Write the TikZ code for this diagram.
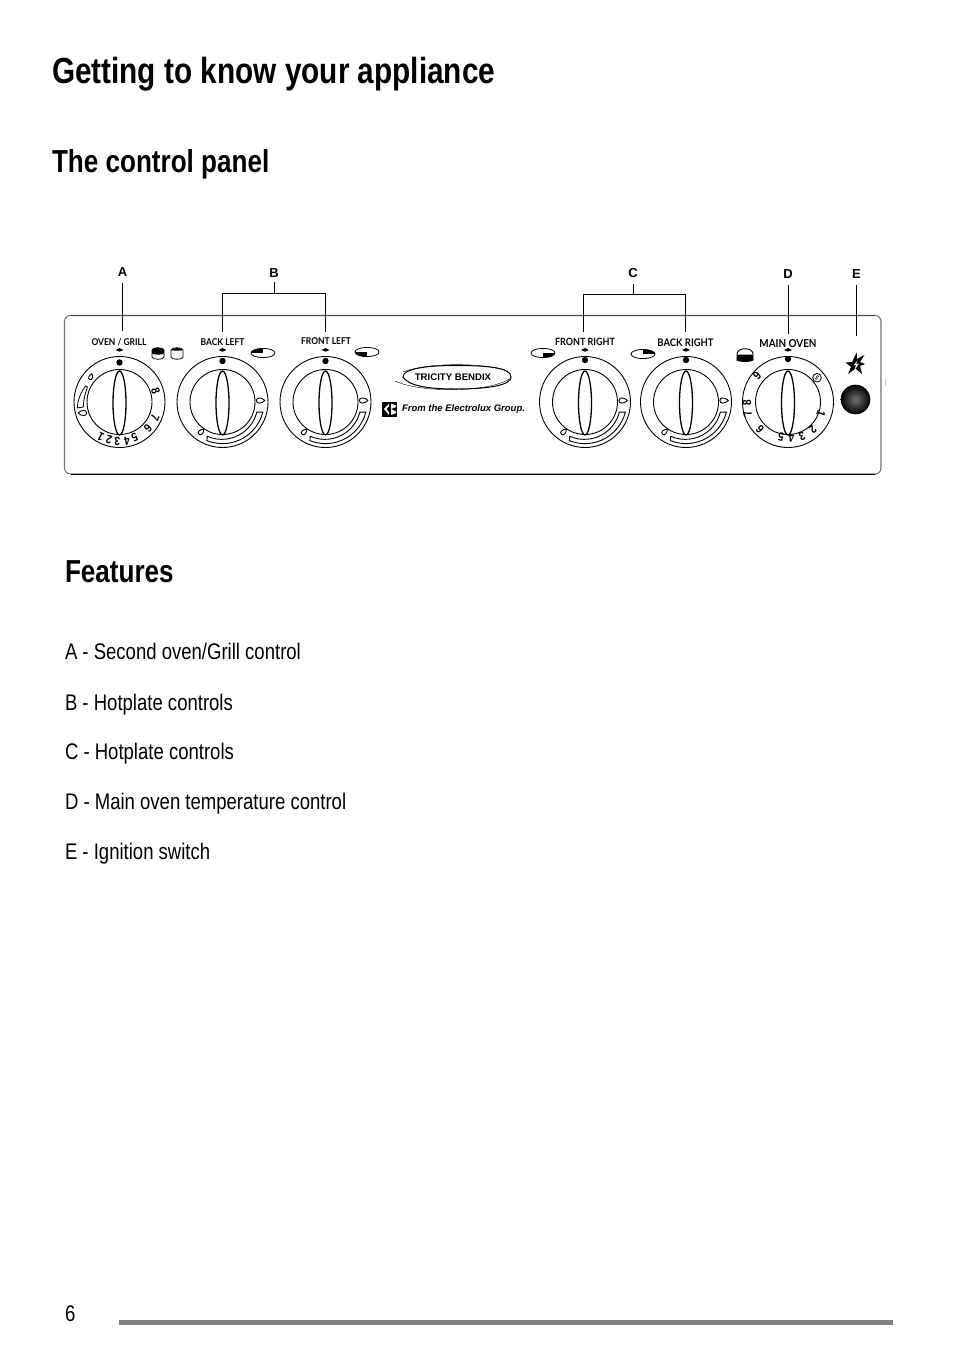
\documentclass[tikz,border=0pt]{standalone}
\usepackage{fontspec}
\setmainfont[FakeStretch=0.82]{Liberation Sans}
\newfontfamily\plainsans{Liberation Sans}
\newfontfamily\dialfont[FakeStretch=0.9]{Lato}
\newfontfamily\digitfont[FakeStretch=0.85]{Liberation Sans}
\usetikzlibrary{shadings}
\tikzset{
  every node/.style={inner sep=0pt,outer sep=0pt},
  title/.style={anchor=base west,font=\bfseries\fontsize{36.3}{36}\selectfont},
  subhead/.style={anchor=base west,font=\bfseries\fontsize{31.8}{31}\selectfont},
  bodytext/.style={anchor=base west,font=\fontsize{22.6}{22}\selectfont},
  letter/.style={font=\plainsans\bfseries\fontsize{13}{13}\selectfont},
  dialname/.style={font=\dialfont\bfseries\fontsize{#1}{#1}\selectfont},
  dialname/.default=9.4,
  digit/.style={font=\digitfont\bfseries\fontsize{12}{12}\selectfont},
  lead/.style={line width=0.8pt,black},
}
\newcommand{\dialbase}[3]{%
  \draw[line width=0.9pt] (#1,#2) circle[radius=45.5];
  \draw[line width=0.9pt] (#1,#2) circle[radius=32.5];
  \draw[line width=1.3pt,fill=white] (#1,#2+1) ellipse[x radius=6.5,y radius=32];
  \fill (#1,#2-#3) circle[radius=3.2];
  \fill (#1-4,#2-52) -- (#1,#2-54) -- (#1+4,#2-52) -- (#1,#2-50.3) -- cycle;
}
\newcommand{\flame}[4]{% x y rotation scale
  \draw[line width=0.9pt,fill=white,rotate around={#3:(#1,#2)}]
    (#1+#4*1.4,#2) .. controls (#1+#4*0.4,#2-#4*0.9) and (#1-#4*1,#2-#4*1) .. (#1-#4*1,#2)
    .. controls (#1-#4*1,#2+#4*1) and (#1+#4*0.4,#2+#4*0.9) .. (#1+#4*1.4,#2);
}
\newcommand{\hotdial}[3]{%
  \dialbase{#1}{#2}{#3}
  \flame{#1+37.5}{#2-1.5}{0}{3.6}
  \flame{#1-21.5}{#2+30}{45}{3}
  \draw[line width=0.9pt,fill=white,shift={(#1,#2)}]
    (14:41.6) arc[start angle=14,end angle=112,radius=41.6]
    -- (114:37.5)
    arc[start angle=114,end angle=14,radius=36] -- cycle;
}
\newcommand{\hpicon}[3]{%
  \draw[line width=0.8pt] (#1,#2) ellipse[x radius=12,y radius=4.6];
  \begin{scope}
    \clip (#1,#2) ellipse[x radius=12,y radius=4.6];
    \fill #3;
  \end{scope}
}
\newcommand{\scaledigit}[5]{% name digit x y cx
  \pgfmathsetmacro{\digrot}{atan2(402-#4,#3-#5)-90}
  \node[digit,rotate=\digrot] (#1) at (#3,#4) {#2};
}
\begin{document}
\begin{tikzpicture}[x=1pt,y=-1pt]
\useasboundingbox (0,0) rectangle (954,1352);
\fill[white] (0,0) rectangle (954,1352);

\node[title] (t1) at (52,83) {Getting to know your appliance};
\node[subhead] (t2) at (52,172) {The control panel};
\node[subhead] (t3) at (65,582) {Features};
\node[bodytext] (f1) at (65,659) {A - Second oven/Grill control};
\node[bodytext] (f2) at (65,710) {B - Hotplate controls};
\node[bodytext] (f3) at (65,759) {C - Hotplate controls};
\node[bodytext] (f4) at (65,809) {D - Main oven temperature control};
\node[bodytext] (f5) at (65,859) {E - Ignition switch};
\node[bodytext] (pg) at (65,1321) {6};
\fill[black!50] (119,1320) rectangle (893,1325);

% panel
\draw[line width=1.1pt,black!55,rounded corners=6pt] (64.5,315.5) rectangle (881,474);
\draw[line width=0.8pt,black!75] (71,315.5) -- (875,315.5);
\draw[line width=0.9pt] (71,474) -- (875,474);
\fill[black!22] (884.5,379) rectangle (886,386);

% letters and leaders
\node[letter] (A) at (122.5,272) {A};
\node[letter] (B) at (274,273) {B};
\node[letter] (C) at (633,273) {C};
\node[letter] (D) at (788,274) {D};
\node[letter] (E) at (856.5,274) {E};
\coordinate (Aend) at (122.5,331);
\coordinate (Bl) at (222.5,332);
\coordinate (Br) at (325.5,332);
\coordinate (Cl) at (583.5,332);
\coordinate (Cr) at (685.5,332);
\coordinate (Dend) at (788,334);
\coordinate (Eend) at (856.5,336);
\draw[lead] (A.south |- 0,283) -- (Aend);
\draw[lead] (B.south |- 0,282) -- (274,293) (Bl) -- (222.5,293) -- (325.5,293) -- (Br);
\draw[lead] (C.south |- 0,284) -- (633,294.5) (Cl) -- (583.5,294.5) -- (685.5,294.5) -- (Cr);
\draw[lead] (D.south |- 0,285) -- (Dend);
\draw[lead] (E.south |- 0,285) -- (Eend);

% dial names
\node[dialname] (nA) at (119,342.5) {OVEN / GRILL};
\node[dialname] (nB) at (222.5,342.5) {BACK LEFT};
\node[dialname] (nC) at (326,341) {FRONT LEFT};
\node[dialname=10] (nD) at (585,342) {FRONT RIGHT};
\node[dialname=10.5] (nE) at (685.5,343) {BACK RIGHT};
\node[dialname=11] (nF) at (788,343.5) {MAIN OVEN};

% dials
\dialbase{119.5}{402}{39.5}
\hotdial{222.5}{402}{41}
\hotdial{325.5}{402}{41}
\hotdial{585}{402}{42}
\hotdial{686}{402}{42}
\dialbase{788}{402}{43}

% oven/grill scale
\scaledigit{a8}{8}{155.7}{391}{119.5}
\scaledigit{a7}{7}{155}{417.7}{119.5}
\scaledigit{a6}{6}{148}{428.5}{119.5}
\scaledigit{a5}{5}{134.5}{437}{119.5}
\scaledigit{a4}{4}{127}{441.5}{119.5}
\scaledigit{a3}{3}{117.3}{441.5}{119.5}
\scaledigit{a2}{2}{109}{440}{119.5}
\scaledigit{a1}{1}{100.7}{437}{119.5}
\flame{90.7}{377}{70}{2.6}
\flame{83}{413}{180}{3.6}
\draw[line width=0.8pt,fill=white] (77.3,408) .. controls (77.5,400) and (81,392) .. (85.7,386) -- (87.5,387) .. controls (85,393) and (83.5,400) .. (83.3,407) -- cycle;

% main oven scale
\scaledigit{m9}{9}{757}{376}{788}
\scaledigit{m8}{8}{747}{403}{788}
\scaledigit{m7}{7}{747.7}{414}{788}
\scaledigit{m6}{6}{760}{429}{788}
\scaledigit{m5}{5}{781}{437}{788}
\scaledigit{m4}{4}{791.3}{438}{788}
\scaledigit{m3}{3}{802}{436}{788}
\scaledigit{m2}{2}{813}{429}{788}
\scaledigit{m1}{1}{821}{414}{788}
\draw[line width=0.8pt] (817,377.7) circle[radius=4.3];
\node[font=\dialfont\bfseries\fontsize{6.5}{6.5}\selectfont,rotate=-45] (timer) at (817,377.7) {S};

% oven icons
\draw[line width=0.8pt] (152,350) .. controls (152,347) and (164,347) .. (164,350) -- (164,357) .. controls (164,360) and (152,360) .. (152,357) -- cycle;
\fill (152,350) .. controls (152,347) and (164,347) .. (164,350) -- (164,353.5) .. controls (164,355) and (152,355) .. (152,353.5) -- cycle;
\draw[line width=0.8pt] (171,350) .. controls (171,347) and (183,347) .. (183,350) -- (183,357) .. controls (183,360) and (171,360) .. (171,357) -- cycle;
\fill (171,350) .. controls (171,347.5) and (183,347.5) .. (183,350) .. controls (183,351) and (171,351) .. (171,350) -- cycle;
\draw[line width=0.9pt] (737,361) -- (737,354) .. controls (737,347) and (753,347) .. (753,354) -- (753,361);
\fill (737,354.5) -- (753,354.5) -- (753,360) .. controls (753,362.5) and (737,362.5) .. (737,360) -- cycle;

% hotplate icons
\hpicon{263}{353}{(251,348) rectangle (263,353)}
\hpicon{367}{352}{(355,352) rectangle (367,358)}
\hpicon{543}{353}{(543,353) rectangle (556,359)}
\hpicon{643}{354}{(643,348) rectangle (656,354)}

% logo
\draw[line width=0.4pt] (395,381) .. controls (420,393) and (490,393) .. (511,378);
\draw[line width=0.4pt] (403,372) .. controls (430,362) and (480,363) .. (505,370);
\draw[line width=1pt] (403,377) .. controls (403,369) and (425,365.5) .. (455,365.5) .. controls (490,365.5) and (511,368) .. (511,377) .. controls (511,385) and (490,389) .. (455,389) .. controls (425,389) and (408,385) .. (403,377) -- cycle;
\node[font=\plainsans\bfseries\fontsize{9.6}{9.6}\selectfont] (logo) at (453,377.5) {TRICITY BENDIX};
\fill (382,402) rectangle (397,416.5);
\fill[white] (389,403.5) -- (384,409) -- (389,415) -- (389,412.5) -- (386.5,409) -- (389,406) -- cycle;
\fill[white] (391,403.5) -- (396,405.5) -- (396,407) -- (391,409) -- (396,411.5) -- (396,413) -- (391,415) -- cycle;
\node[anchor=west,font=\plainsans\bfseries\itshape\fontsize{9.5}{9.5}\selectfont] (group) at (402,409) {From the Electrolux Group.};

% ignition
\fill (857,352) -- (856.8,359) -- (864.5,355) -- (860,362) -- (865,364) -- (860,366) -- (862,374) -- (855.5,368.5) -- (848,374) -- (851,367) -- (845.5,362.5) -- (852,362) -- cycle;
\fill[white] (857.5,360.5) -- (853.5,365.5) -- (856,365) -- (854.5,370) -- (859,363.5) -- (856,364) -- cycle;
\shade[inner color=black!55,outer color=black] (855.5,399.5) circle[radius=14.8];
\end{tikzpicture}
\end{document}
